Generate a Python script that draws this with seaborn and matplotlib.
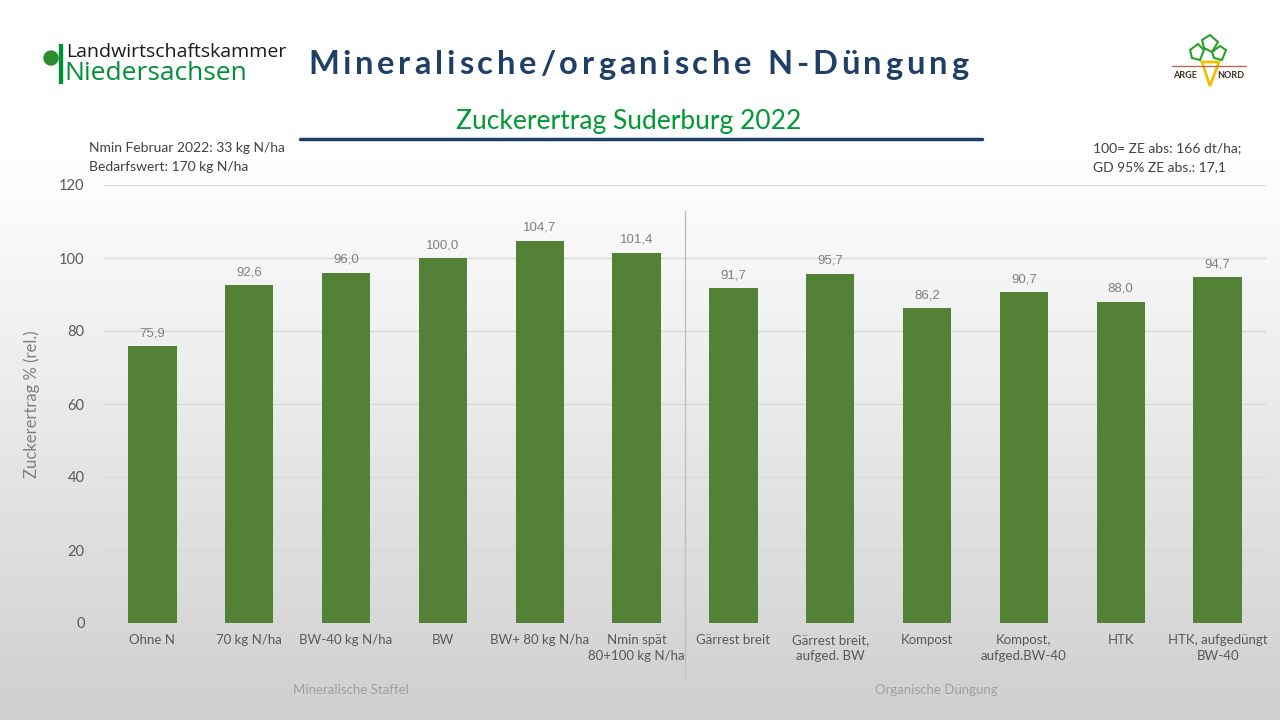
import numpy as np
import pandas as pd
import matplotlib
matplotlib.use("Agg")
import matplotlib.pyplot as plt
import seaborn as sns
from matplotlib.font_manager import FontProperties, findfont, get_font
from matplotlib.patches import Ellipse, Rectangle, Polygon

# ─── Data ─────────────────────────────────────────────────────────────────────
categories = [
    "Ohne N", "70 kg N/ha", "BW-40 kg N/ha", "BW", "BW+ 80 kg N/ha",
    "Nmin spät\n80+100 kg N/ha",
    "Gärrest breit", "Gärrest breit,\naufged. BW", "Kompost",
    "Kompost,\naufged.BW-40", "HTK", "HTK, aufgedüngt\nBW-40",
]
values = [75.9, 92.6, 96.0, 100.0, 104.7, 101.4, 91.7, 95.7, 86.2, 90.7, 88.0, 94.7]
groups = ["Mineralische Staffel", "Organische Düngung"]
group_centers = [2.05, 8.1]
y_ticks = [0, 20, 40, 60, 80, 100, 120]

df = pd.DataFrame({"Variante": categories, "ZE": values})

# ─── Style ────────────────────────────────────────────────────────────────────
sns.set_theme(style="white")
plt.rcParams["font.family"] = ["Lato", "DejaVu Sans"]

W, H = 1280, 720
fig = plt.figure(figsize=(12.8, 7.2), dpi=100)

# background gradient (white top -> light grey bottom)
bg = fig.add_axes([0, 0, 1, 1], zorder=-10)
rows = np.arange(H)
shade = np.clip(1.0 - (rows - 150) / (H - 150) * 0.19, 0.81, 1.0)
bg.imshow(np.repeat(shade[:, None], 2, axis=1), cmap="gray", vmin=0, vmax=1,
          aspect="auto", extent=[0, 1, 0, 1], origin="upper")
bg.set_axis_off()

def fx(px):
    return px / W

def fy(py):
    return 1 - py / H

# ─── Bars ─────────────────────────────────────────────────────────────────────
ax = fig.add_axes([fx(104), fy(623), fx(1266) - fx(104), fy(185) - fy(623)])
ax.set_facecolor("none")
sns.barplot(data=df, x="Variante", y="ZE", color="#538135", width=0.5,
            saturation=1, linewidth=0, ax=ax)
ax.set_ylim(0, 120)
ax.set_xlim(-0.5, len(categories) - 0.5)
ax.set_yticks(y_ticks)
ax.grid(axis="y", color="#d9d9d9", linewidth=1)
ax.set_axisbelow(True)
for s in ax.spines.values():
    s.set_visible(False)
ax.tick_params(axis="y", labelsize=10.5, labelcolor="#595959", length=0, pad=14)
ax.tick_params(axis="x", labelsize=9.5, labelcolor="#595959", length=0, pad=8)
for t in ax.get_xticklabels():
    t.set_linespacing(1.35)
ax.set_xlabel("")
ax.set_ylabel("Zuckerertrag % (rel.)", fontsize=12, color="#7f7f7f", labelpad=14)

ax.bar_label(ax.containers[0], labels=[f"{v:.1f}".replace(".", ",") for v in values],
             padding=5, fontsize=9.5, color="#7f7f7f", family="Liberation Sans")

# divider between groups
ax.plot([5.5, 5.5], [-0.123, 0.94], color="#bfbfbf", linewidth=1,
        transform=ax.get_xaxis_transform(), clip_on=False)
for g, c in zip(groups, group_centers):
    ax.text(c, -0.152, g, transform=ax.get_xaxis_transform(), ha="center",
            va="center", fontsize=9.5, color="#a0a0a0")

# ─── Header ───────────────────────────────────────────────────────────────────
def spaced_text(text, x0, x1, yc, size, color, weight="bold", family="Lato"):
    prop = FontProperties(family=family, weight=weight, size=size)
    font = get_font(findfont(prop))
    font.set_size(size, 100)
    adv = []
    for ch in text:
        g = font.load_char(ord(ch))
        adv.append(g.linearHoriAdvance / 65536)
    track = ((x1 - x0) - sum(adv)) / (len(text) - 1)
    x = x0
    for ch, a in zip(text, adv):
        fig.text(fx(x), fy(yc), ch, fontproperties=prop, color=color,
                 ha="left", va="center")
        x += a + track

spaced_text("Mineralische/organische N-Düngung", 308, 968, 65, 23.5, "#1f3f66")

fig.text(fx(629), fy(121), "Zuckerertrag Suderburg 2022", ha="center", va="center",
         fontsize=19, color="#009933")
fig.add_artist(plt.Line2D([fx(300), fx(982)], [fy(139), fy(139)],
                          color="#1f3f66", linewidth=2.5))

fig.text(fx(89), fy(148), "Nmin Februar 2022: 33 kg N/ha", ha="left", va="center",
         fontsize=10, color="#404040")
fig.text(fx(89), fy(167), "Bedarfswert: 170 kg N/ha", ha="left", va="center",
         fontsize=10, color="#404040")
fig.text(fx(1093), fy(148), "100= ZE abs: 166 dt/ha;", ha="left", va="center",
         fontsize=10, color="#404040")
fig.text(fx(1093), fy(167), "GD 95% ZE abs.: 17,1", ha="left", va="center",
         fontsize=10, color="#404040")

# left logo
fig.add_artist(Ellipse((fx(51), fy(58)), 14 / W, 14 / H, transform=fig.transFigure,
                       color="#2e8b2e"))
fig.add_artist(Rectangle((fx(59), fy(83)), fx(3), fy(44) - fy(83),
                         transform=fig.transFigure, color="#009036"))
fig.text(fx(66), fy(52), "Landwirtschaftskammer", ha="left", va="center",
         fontsize=14, color="#1a1a1a", family="Open Sans")
fig.text(fx(64), fy(74), "Niedersachsen", ha="left", va="center",
         fontsize=19, color="#009036", family="Open Sans")

# right logo (ARGE NORD)
fig.add_artist(plt.Line2D([fx(1172), fx(1246)], [fy(66), fy(66)],
                          color="#b07050", linewidth=1))
fig.add_artist(Polygon([(fx(1202), fy(62)), (fx(1210), fy(86)), (fx(1219), fy(62))],
                       closed=True, fill=False, edgecolor="#f0c000", linewidth=2,
                       transform=fig.transFigure))
for pts in [[(1190, 50), (1198, 44), (1204, 50), (1200, 60), (1192, 58)],
            [(1202, 40), (1210, 35), (1218, 42), (1212, 52), (1204, 48)],
            [(1212, 52), (1220, 46), (1226, 50), (1222, 60), (1214, 58)]]:
    fig.add_artist(Polygon([(fx(a), fy(b)) for a, b in pts], closed=True, fill=False,
                           edgecolor="#2aa02a", linewidth=1.5,
                           transform=fig.transFigure))
fig.text(fx(1185), fy(75), "ARGE", ha="center", va="center", fontsize=6.5,
         weight="bold", color="#3a2a20")
fig.text(fx(1231), fy(75), "NORD", ha="center", va="center", fontsize=6.5,
         weight="bold", color="#3a2a20")

fig.savefig("out.png", dpi=100)
